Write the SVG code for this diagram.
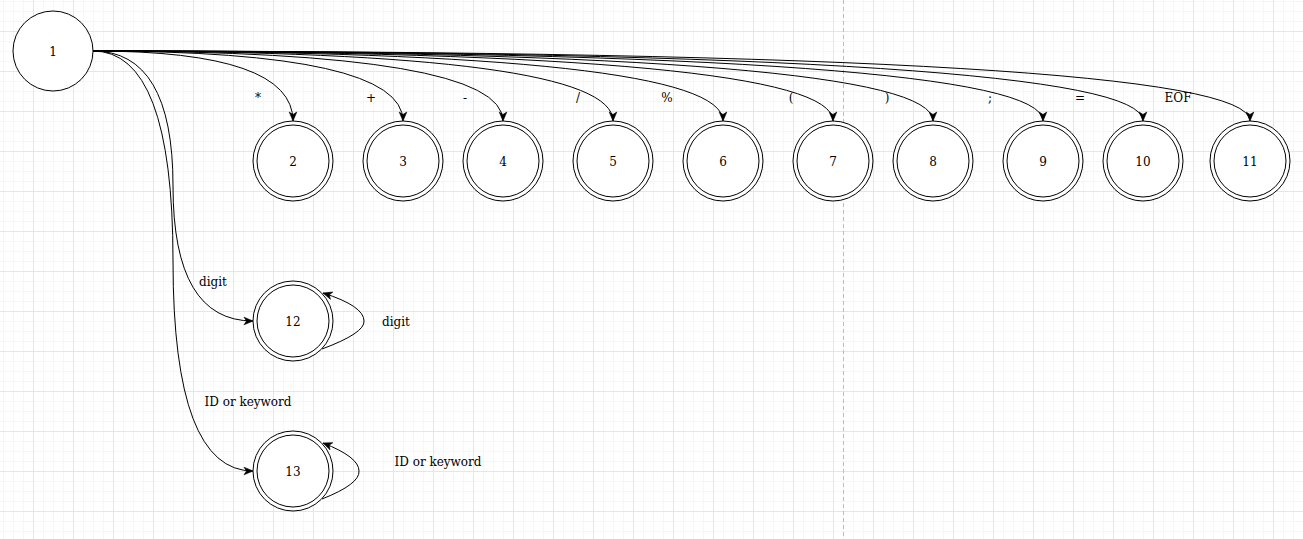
<svg xmlns="http://www.w3.org/2000/svg" width="1303" height="539" viewBox="0 0 1303 539">
<style>
.st{fill:#fff;stroke:#000;stroke-width:1}
.in{fill:none;stroke:#000;stroke-width:1}
.lbl{font-family:"DejaVu Serif","Liberation Serif",serif;font-size:12px;fill:#000;text-anchor:middle}
.e{fill:none;stroke:#000;stroke-width:1;marker-end:url(#arr)}
</style>
<defs>
<pattern id="grid" x="33" y="31" width="40" height="40" patternUnits="userSpaceOnUse">
<rect x="0" y="0" width="40" height="40" fill="#fff"/>
<rect x="10" y="0" width="1" height="40" fill="#f6f6f6"/>
<rect x="20" y="0" width="1" height="40" fill="#f6f6f6"/>
<rect x="30" y="0" width="1" height="40" fill="#f6f6f6"/>
<rect x="0" y="10" width="40" height="1" fill="#f6f6f6"/>
<rect x="0" y="20" width="40" height="1" fill="#f6f6f6"/>
<rect x="0" y="30" width="40" height="1" fill="#f6f6f6"/>
<rect x="0" y="0" width="1" height="40" fill="#e6e6e6"/>
<rect x="0" y="0" width="40" height="1" fill="#e6e6e6"/>
</pattern>
<marker id="arr" markerUnits="userSpaceOnUse" markerWidth="12" markerHeight="10" refX="10" refY="5" orient="auto">
<path d="M1,1.2 L10,5 L1,8.8 L3.5,5 Z" fill="#000" stroke="#000" stroke-width="0.6"/>
</marker>
</defs>
<rect width="1303" height="539" fill="url(#grid)"/>
<line x1="843.5" y1="0" x2="843.5" y2="539" stroke="#bdbdbd" stroke-dasharray="4 3"/>

<g id="connectors">
<path class="e" d="M93 51 Q293 51 293 121"/>
<path class="e" d="M93 51 Q403 51 403 121"/>
<path class="e" d="M93 51 Q503 51 503 121"/>
<path class="e" d="M93 51 Q613 51 613 121"/>
<path class="e" d="M93 51 Q723 51 723 121"/>
<path class="e" d="M93 51 Q833 51 833 121"/>
<path class="e" d="M93 51 Q933 51 933 121"/>
<path class="e" d="M93 51 Q1043 51 1043 121"/>
<path class="e" d="M93 51 Q1143 51 1143 121"/>
<path class="e" d="M93 51 Q1250 51 1250 121"/>
<path class="e" d="M93 51 Q173 51 173 186 Q173 321 253 321"/>
<path class="e" d="M93 51 Q173 51 173 261 Q173 471 253 471"/>
<path class="e" d="M322 349 Q365 333 364 321 Q364 306 323 293"/>
<path class="e" d="M322 499 Q360 484 359 471 Q359 457 323 443"/>
<text class="lbl" x="258" y="102">*</text>
<text class="lbl" x="371" y="102">+</text>
<text class="lbl" x="465" y="102">-</text>
<text class="lbl" x="578" y="102">/</text>
<text class="lbl" x="667" y="102">%</text>
<text class="lbl" x="791" y="102">(</text>
<text class="lbl" x="887" y="102">)</text>
<text class="lbl" x="990" y="102">;</text>
<text class="lbl" x="1080" y="102">=</text>
<text class="lbl" x="1178" y="102">EOF</text>
<text class="lbl" x="213" y="286">digit</text>
<text class="lbl" x="396" y="326">digit</text>
<text class="lbl" x="248" y="406">ID or keyword</text>
<text class="lbl" x="438" y="466">ID or keyword</text>
</g>

<g id="n1"><circle class="st" cx="53" cy="51" r="40"/><text class="lbl" x="53" y="56">1</text></g>
<g id="n2"><circle class="st" cx="293" cy="161" r="40"/><circle class="in" cx="293" cy="161" r="36"/><text class="lbl" x="293" y="166">2</text></g>
<g id="n3"><circle class="st" cx="403" cy="161" r="40"/><circle class="in" cx="403" cy="161" r="36"/><text class="lbl" x="403" y="166">3</text></g>
<g id="n4"><circle class="st" cx="503" cy="161" r="40"/><circle class="in" cx="503" cy="161" r="36"/><text class="lbl" x="503" y="166">4</text></g>
<g id="n5"><circle class="st" cx="613" cy="161" r="40"/><circle class="in" cx="613" cy="161" r="36"/><text class="lbl" x="613" y="166">5</text></g>
<g id="n6"><circle class="st" cx="723" cy="161" r="40"/><circle class="in" cx="723" cy="161" r="36"/><text class="lbl" x="723" y="166">6</text></g>
<g id="n7"><circle class="st" cx="833" cy="161" r="40"/><circle class="in" cx="833" cy="161" r="36"/><text class="lbl" x="833" y="166">7</text></g>
<g id="n8"><circle class="st" cx="933" cy="161" r="40"/><circle class="in" cx="933" cy="161" r="36"/><text class="lbl" x="933" y="166">8</text></g>
<g id="n9"><circle class="st" cx="1043" cy="161" r="40"/><circle class="in" cx="1043" cy="161" r="36"/><text class="lbl" x="1043" y="166">9</text></g>
<g id="n10"><circle class="st" cx="1143" cy="161" r="40"/><circle class="in" cx="1143" cy="161" r="36"/><text class="lbl" x="1143" y="166">10</text></g>
<g id="n11"><circle class="st" cx="1250" cy="161" r="40"/><circle class="in" cx="1250" cy="161" r="36"/><text class="lbl" x="1250" y="166">11</text></g>
<g id="n12"><circle class="st" cx="293" cy="321" r="40"/><circle class="in" cx="293" cy="321" r="36"/><text class="lbl" x="293" y="326">12</text></g>
<g id="n13"><circle class="st" cx="293" cy="471" r="40"/><circle class="in" cx="293" cy="471" r="36"/><text class="lbl" x="293" y="476">13</text></g>
</svg>
